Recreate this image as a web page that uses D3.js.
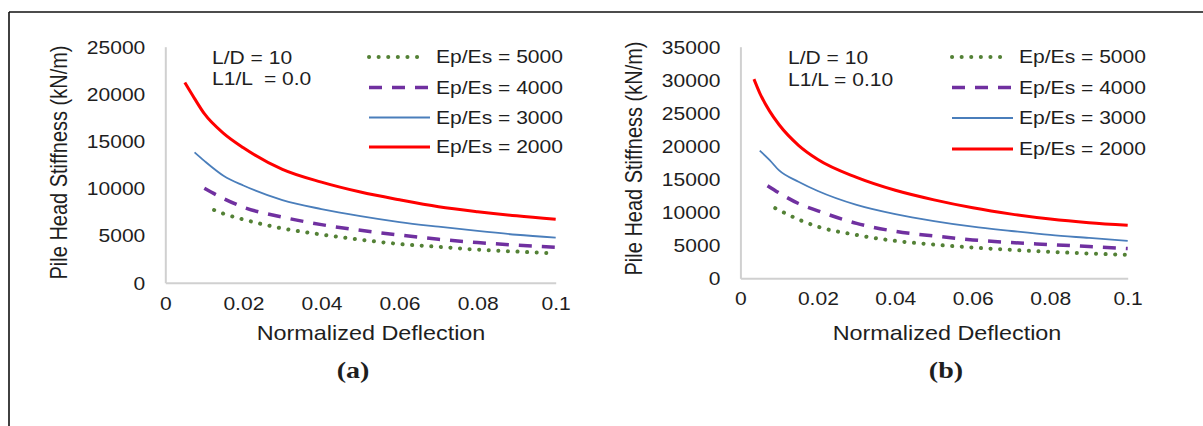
<!DOCTYPE html>
<html>
<head>
<meta charset="utf-8">
<script src="https://cdn.jsdelivr.net/npm/d3@7"></script>
<style>
  body { margin: 0; background: #fff; }
  svg { display: block; }
  text { font-family: "Liberation Sans", Arial, sans-serif; fill: #1e1e1e; }
</style>
</head>
<body>
<svg id="chart" width="1203" height="426"></svg>
<script>
// ---- data ----
const xTicks = [0, 0.02, 0.04, 0.06, 0.08, 0.1];
const yTicksA = [0, 5000, 10000, 15000, 20000, 25000];
const yTicksB = [0, 5000, 10000, 15000, 20000, 25000, 30000, 35000];
const seriesNames = ["Ep/Es = 5000", "Ep/Es = 4000", "Ep/Es = 3000", "Ep/Es = 2000"];

// panel (a): L/D = 10, L1/L = 0.0
const a5000 = [[0.0125,7700],[0.015,7300],[0.02,6700],[0.03,5750],[0.04,5100],[0.05,4550],[0.06,4100],[0.07,3800],[0.08,3500],[0.09,3300],[0.1,3100]];
const a4000 = [[0.01,10000],[0.015,8900],[0.02,8000],[0.03,6950],[0.04,6150],[0.05,5550],[0.06,5050],[0.07,4600],[0.08,4250],[0.09,3980],[0.1,3750]];
const a3000 = [[0.0075,13800],[0.01,12900],[0.015,11300],[0.02,10300],[0.03,8750],[0.04,7800],[0.05,7050],[0.06,6420],[0.07,5930],[0.08,5480],[0.09,5080],[0.1,4780]];
const a2000 = [[0.005,21200],[0.0075,19500],[0.01,17900],[0.015,15800],[0.02,14300],[0.03,12000],[0.04,10650],[0.05,9600],[0.06,8780],[0.07,8050],[0.08,7520],[0.09,7080],[0.1,6720]];

// panel (b): L/D = 10, L1/L = 0.10
const b5000 = [[0.009,10600],[0.01,10300],[0.015,8900],[0.02,7800],[0.03,6550],[0.04,5650],[0.05,5100],[0.06,4650],[0.07,4300],[0.08,4000],[0.09,3750],[0.1,3550]];
const b4000 = [[0.007,14000],[0.01,12900],[0.015,11300],[0.02,10200],[0.03,8300],[0.04,7100],[0.05,6400],[0.06,5800],[0.07,5400],[0.08,5100],[0.09,4800],[0.1,4500]];
const b3000 = [[0.005,19300],[0.0075,17900],[0.01,16300],[0.015,14600],[0.02,13200],[0.03,11100],[0.04,9700],[0.05,8650],[0.06,7800],[0.07,7150],[0.08,6550],[0.09,6100],[0.1,5650]];
const b2000 = [[0.0035,30100],[0.005,28000],[0.0075,25300],[0.01,23200],[0.015,20100],[0.02,17950],[0.03,15250],[0.04,13300],[0.05,11850],[0.06,10650],[0.07,9700],[0.08,8950],[0.09,8400],[0.1,8000]];

// ---- styles ----
const SX = 1.17; // the original picture is stretched sideways
const styles = [
  {color: "#538135", width: 4, dash: "0.1,9.5", cap: "round"},
  {color: "#7030a0", width: 3.5, dash: "13,10", cap: "butt"},
  {color: "#4a7ebb", width: 1.8, dash: null, cap: "butt"},
  {color: "#ff0000", width: 3, dash: null, cap: "butt"}
];

const svg = d3.select("#chart");

// frame lines
svg.append("line").attr("x1", 9).attr("y1", 12).attr("x2", 1203).attr("y2", 12)
  .attr("stroke", "#111").attr("stroke-width", 1.6);
svg.append("line").attr("x1", 9).attr("y1", 12).attr("x2", 9).attr("y2", 426)
  .attr("stroke", "#111").attr("stroke-width", 1.6);

function stretchedText(parent, x, y, txt, anchor, size) {
  const g = parent.append("g").attr("transform", `translate(${x},${y}) scale(${SX},1)`);
  return g.append("text").attr("text-anchor", anchor || "start")
    .attr("font-size", size || 18).style("white-space", "pre").text(txt);
}

function panel(opt) {
  const g = svg.append("g");
  const x = d3.scaleLinear().domain([0, 0.1]).range([opt.x0, opt.x1]);
  const y = d3.scaleLinear().domain([0, opt.yMax]).range([opt.y0, opt.y1]);

  // y axis
  const ya = g.append("g").attr("transform", `translate(${opt.x0},0)`)
    .call(d3.axisLeft(y).tickValues(opt.yTicks).tickSize(0).tickPadding(0).tickFormat(d3.format("d")));
  ya.select(".domain").attr("stroke", "#d0d0d0").attr("stroke-width", 2);
  ya.selectAll("text").attr("x", 0).attr("dy", "0.35em").attr("font-size", 18)
    .attr("font-family", null).attr("fill", "#1e1e1e")
    .attr("transform", `translate(-20,0) scale(${SX},1)`);

  // x axis
  const xa = g.append("g").attr("transform", `translate(0,${opt.y0})`)
    .call(d3.axisBottom(x).tickValues(xTicks).tickSize(0)
      .tickFormat(d => d === 0 ? "0" : String(+d.toFixed(2))));
  xa.select(".domain").attr("stroke", "#d0d0d0").attr("stroke-width", 2);
  xa.selectAll("text").attr("y", 27).attr("dy", 0).attr("font-size", 18)
    .attr("font-family", null).attr("fill", "#1e1e1e")
    .attr("transform", `scale(${SX},1)`);

  // curves
  const line = d3.line().x(d => x(d[0])).y(d => y(d[1])).curve(d3.curveMonotoneX);
  opt.series.forEach((s, i) => {
    const st = styles[i];
    g.append("path").datum(s).attr("d", line).attr("fill", "none")
      .attr("stroke", st.color).attr("stroke-width", st.width)
      .attr("stroke-dasharray", st.dash).attr("stroke-linecap", st.cap);
  });

  // legend
  seriesNames.forEach((name, i) => {
    const st = styles[i];
    const ly = opt.legY[i];
    g.append("line").attr("x1", opt.legX0).attr("x2", i === 0 ? opt.legX1 - 7 : opt.legX1)
      .attr("y1", ly).attr("y2", ly)
      .attr("stroke", st.color).attr("stroke-width", st.width)
      .attr("stroke-dasharray", st.dash).attr("stroke-linecap", st.cap);
    stretchedText(g, opt.legX1 + 6, ly + 6.4, name, "start", 18);
  });

  // annotation
  stretchedText(g, opt.noteX, opt.noteY[0], "L/D = 10", "start", 18);
  stretchedText(g, opt.noteX, opt.noteY[1], opt.note2, "start", 18);

  // axis titles
  stretchedText(g, opt.xTitleX, 339.5, "Normalized Deflection", "middle", 20);
  const yt = g.append("g").attr("transform", `translate(${opt.yTitleX},${opt.yTitleY}) rotate(-90) scale(1,${SX})`);
  yt.append("text").attr("text-anchor", "middle").attr("dy", "0.36em").attr("font-size", 20)
    .text("Pile Head Stiffness (kN/m)");

  // panel label
  const lab = g.append("g").attr("transform", `translate(${opt.labX},378) scale(${SX},1)`);
  lab.append("text").attr("text-anchor", "middle").attr("font-size", 24)
    .attr("font-weight", "bold").style("font-family", "'Liberation Serif', 'Times New Roman', serif")
    .attr("fill", "#111").text(opt.label);
}

panel({
  x0: 165.3, x1: 555.7, y0: 282.7, y1: 46.7, yMax: 25000, yTicks: yTicksA,
  series: [a5000, a4000, a3000, a2000],
  legX0: 369, legX1: 430, legY: [57, 87.5, 117.5, 147],
  noteX: 212, noteY: [63.5, 85], note2: "L1/L  = 0.0",
  xTitleX: 371, yTitleX: 59, yTitleY: 162.5, labX: 353, label: "(a)"
});

panel({
  x0: 740.4, x1: 1127.7, y0: 278.3, y1: 46.7, yMax: 35000, yTicks: yTicksB,
  series: [b5000, b4000, b3000, b2000],
  legX0: 952, legX1: 1013, legY: [57, 87.5, 118, 149],
  noteX: 788, noteY: [64, 85.5], note2: "L1/L = 0.10",
  xTitleX: 947, yTitleX: 634, yTitleY: 158.5, labX: 946, label: "(b)"
});
</script>
</body>
</html>
